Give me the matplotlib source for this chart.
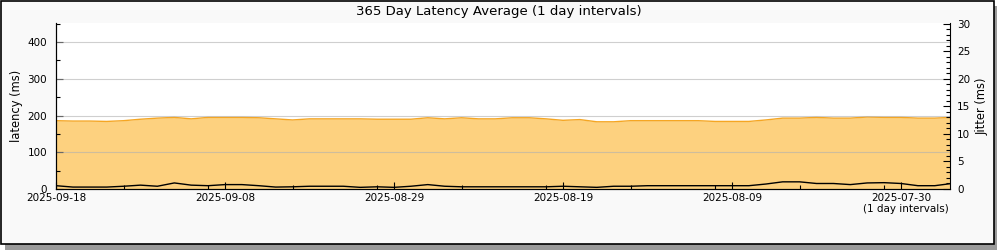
import numpy as np
import matplotlib
matplotlib.use("Agg")
import matplotlib.pyplot as plt
import matplotlib.dates as mdates
from matplotlib.patches import Rectangle
from matplotlib.ticker import MultipleLocator

# daily values, newest first (2025-09-18 going back)
start_date = np.datetime64("2025-09-18")
latency_ms = [186, 185, 185, 184, 186, 190, 193, 195, 191, 195,
              195, 195, 194, 191, 188, 191, 191, 191, 191, 190,
              190, 190, 194, 191, 194, 191, 191, 194, 194, 191,
              187, 189, 183, 183, 186, 186, 186, 186, 186, 184,
              184, 184, 188, 193, 193, 195, 193, 193, 196, 195,
              195, 193, 193, 195]
jitter_ms = [0.6, 0.35, 0.35, 0.35, 0.5, 0.7, 0.5, 1.1, 0.7, 0.6,
             0.8, 0.8, 0.6, 0.35, 0.4, 0.5, 0.5, 0.5, 0.3, 0.4,
             0.3, 0.5, 0.8, 0.5, 0.4, 0.4, 0.4, 0.4, 0.4, 0.4,
             0.5, 0.4, 0.3, 0.5, 0.5, 0.6, 0.6, 0.6, 0.6, 0.6,
             0.6, 0.6, 0.9, 1.3, 1.3, 1.0, 1.0, 0.8, 1.1, 1.15,
             1.0, 0.6, 0.6, 1.0]
tick_dates = ["2025-09-18", "2025-09-08", "2025-08-29",
              "2025-08-19", "2025-08-09", "2025-07-30"]


def to_num(d):
    return mdates.date2num(np.datetime64(d, "ms").astype(object))


dates = start_date - np.arange(len(latency_ms)).astype("timedelta64[D]")
x = np.array([to_num(d) for d in dates])
lat = np.array(latency_ms)
jit = np.array(jitter_ms)

plt.rcParams["font.family"] = ["DejaVu Sans"]
fs = 7.5

fig = plt.figure(figsize=(10, 2.5), dpi=100, facecolor="white")

# frame with drop shadow
fig.patches.append(Rectangle((0.005, 0.0), 0.992, 0.976, transform=fig.transFigure,
                             facecolor="#9a9a9a", edgecolor="none", zorder=-3))
fig.patches.append(Rectangle((0.001, 0.024), 0.993, 0.972, transform=fig.transFigure,
                             facecolor="#f9f9f9", edgecolor="black", linewidth=1.2, zorder=-2))

ax = fig.add_axes([0.056, 0.244, 0.894, 0.664])
ax.set_facecolor("white")

x0 = to_num(start_date)
ax.set_xlim(x0, x0 - 52.9)
ax.set_ylim(0, 452)

ax.fill_between(x, 0, lat, color="#fdd17f", linewidth=0, zorder=1)
ax.plot(x, lat, color="#f5a623", linewidth=1.0, zorder=2)

for v in [100, 200, 300, 400]:
    ax.axhline(v, color="#b0b0b0", linewidth=0.8, alpha=0.6, zorder=3)

ax2 = ax.twinx()
ax2.set_ylim(0, 452 / 15)
ax2.plot(x, jit, color="black", linewidth=1.0, zorder=4)

ax.yaxis.set_major_locator(MultipleLocator(100))
ax.yaxis.set_minor_locator(MultipleLocator(50))
ax2.yaxis.set_major_locator(MultipleLocator(5))
ax2.yaxis.set_minor_locator(MultipleLocator(1))

tick_x = [to_num(d) for d in tick_dates]
ax.set_xticks(tick_x)
ax.set_xticklabels(tick_dates)
ax.xaxis.set_minor_locator(MultipleLocator(5))

for a in (ax, ax2):
    a.tick_params(axis="both", which="major", direction="in", length=5, width=0.8,
                  labelsize=fs)
    a.tick_params(axis="both", which="minor", direction="in", length=3, width=0.8)
    a.spines["top"].set_visible(False)
ax.spines["right"].set_visible(False)
ax.tick_params(axis="x", pad=3)
ax.tick_params(axis="y", pad=6.5)
ax2.tick_params(axis="y", pad=5)

ax.set_ylabel("latency (ms)", fontsize=8.3, labelpad=3)
ax2.set_ylabel("Jitter (ms)", fontsize=8.3, labelpad=4)
fig.text(0.4985, 0.956, "365 Day Latency Average (1 day intervals)", fontsize=9.5,
         ha="center", va="center")

fig.text(0.906, 0.164, "(1 day intervals)", fontsize=fs, ha="center", va="center")

fig.savefig("out.png", dpi=100)
